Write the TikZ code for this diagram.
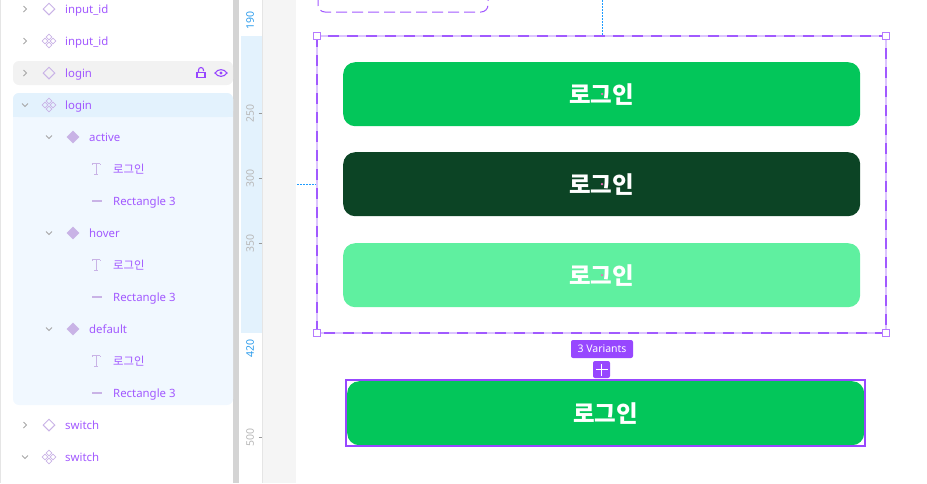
\documentclass[tikz,border=0pt]{standalone}
\usepackage{fontspec}
\setmainfont{Noto Sans}
\newfontfamily\krfont{Noto Sans CJK KR}
\usetikzlibrary{shapes.geometric}
\definecolor{violet}{HTML}{A259FF}
\definecolor{darkviolet}{HTML}{9747FF}
\definecolor{paleviolet}{HTML}{DCC4FF}
\definecolor{iconviolet}{HTML}{C9B3E6}
\definecolor{rowblue}{HTML}{E3F2FD}
\definecolor{paleblue}{HTML}{F1F8FF}
\definecolor{rulerblue}{HTML}{2D9CEB}
\definecolor{guideblue}{HTML}{1E9BFF}
\definecolor{btngreen}{HTML}{03C65A}
\definecolor{btndark}{HTML}{0C4425}
\definecolor{btnlight}{HTML}{5FF0A0}
\tikzset{
  rowtext/.style={anchor=west,inner sep=0pt,text=violet,font=\fontsize{11.4}{13}\selectfont,text height=9pt,text depth=0pt},
  krtext/.style={rowtext,font=\krfont\fontsize{11.4}{13}\selectfont},
  ruler/.style={rotate=90,inner sep=0pt,text=black!28,font=\fontsize{10.5}{12}\selectfont},
  rulermark/.style={ruler,text=rulerblue},
  emptymark/.style={diamond,draw=iconviolet,line width=1pt,inner sep=0pt,minimum size=12pt,aspect=1},
  solidmark/.style={diamond,fill=iconviolet,inner sep=0pt,minimum size=13pt,aspect=1},
  dotmark/.style={diamond,draw=iconviolet,line width=.8pt,inner sep=0pt,minimum size=6pt,aspect=1},
  chevron/.style={draw=black!35,line width=.8pt},
  button/.style={rounded corners=12pt,minimum width=517pt,minimum height=64pt,inner sep=0pt,text=white,font=\krfont\bfseries\fontsize{23.5}{26}\selectfont},
  handle/.style={draw=violet!80,fill=white,line width=1.4pt,minimum size=7pt,inner sep=0pt},
  guide/.style={draw=guideblue,line width=1pt,dash pattern=on 2pt off 1pt},
  centerdot/.style={circle,fill=magenta!60,inner sep=0pt,minimum size=2.5pt}
}
\begin{document}
\begin{tikzpicture}[x=1pt,y=-1pt]
\useasboundingbox (0,0) rectangle (927,483);
% panels
\fill [black!10] (0,0) rectangle (1,483);
\fill [black!17] (233,0) rectangle (239,483);
\fill [black!4] (263,0) rectangle (296,483);
\draw [black!10,line width=1pt] (262.5,0) -- (262.5,483);
\fill [rowblue] (241,36) rectangle (262,333);
% selected rows
\fill [black!5,rounded corners=6pt] (13,61) rectangle (233,85);
\fill [paleblue,rounded corners=6pt] (13,93) rectangle (233,405);
\fill [rowblue,rounded corners=6pt] (13,93) -- (13,117) -- (233,117) -- (233,93) -- cycle;
\fill [rowblue] (13,105) rectangle (233,117);
% ruler
\node [rulermark] (r190) at (250,20) {190};
\node [ruler] (r250) at (250,113) {250};
\node [ruler] (r300) at (250,178) {300};
\node [ruler] (r350) at (250,243) {350};
\node [rulermark] (r420) at (250,348) {420};
\node [ruler] (r500) at (250,437) {500};
\foreach \y in {113,178,243,437}
  \draw [black!40,line width=.8pt] (258.5,\y) -- (262,\y);
% chevrons
\foreach \y in {9,41,73,425}
  \draw [chevron] (23.5,\y-3) -- (26.5,\y) -- (23.5,\y+3);
\foreach \y in {105,457}
  \draw [chevron] (22,\y-1.5) -- (25,\y+1.5) -- (28,\y-1.5);
\foreach \y in {137,233,329}
  \draw [chevron] (46,\y-1.5) -- (49,\y+1.5) -- (52,\y-1.5);
% marks
\node [emptymark] (m1) at (49,9) {};
\node [emptymark] (m3) at (49,73) {};
\node [emptymark] (m14) at (49,425) {};
\foreach \y in {41,105,457}{
  \node [dotmark] at (49,\y-4) {};
  \node [dotmark] at (49,\y+4) {};
  \node [dotmark] at (45,\y) {};
  \node [dotmark] at (53,\y) {};
}
\node [solidmark] (m5) at (73,137) {};
\node [solidmark] (m8) at (73,233) {};
\node [solidmark] (m11) at (73,329) {};
\foreach \y in {169,265,361}{
  \draw [iconviolet,line width=.8pt] (92,\y-5.5) -- (100,\y-5.5);
  \draw [iconviolet,line width=.8pt] (92,\y-5.5) -- (92,\y-4);
  \draw [iconviolet,line width=.8pt] (100,\y-5.5) -- (100,\y-4);
  \draw [iconviolet,line width=.8pt] (96,\y-5.5) -- (96,\y+5);
  \draw [iconviolet,line width=.8pt] (94,\y+5) -- (98,\y+5);
}
\foreach \y in {201,297,393}
  \draw [iconviolet,line width=2pt] (92,\y) -- (102,\y);
% row labels
\node [rowtext] (t1) at (65,9) {input\_id};
\node [rowtext] (t2) at (65,41) {input\_id};
\node [rowtext] (t3) at (65,73) {login};
\node [rowtext] (t4) at (65,105) {login};
\node [rowtext] (t5) at (89,137) {active};
\node [krtext] (t6) at (113,169) {로그인};
\node [rowtext] (t7) at (113,201) {Rectangle 3};
\node [rowtext] (t8) at (89,233) {hover};
\node [krtext] (t9) at (113,265) {로그인};
\node [rowtext] (t10) at (113,297) {Rectangle 3};
\node [rowtext] (t11) at (89,329) {default};
\node [krtext] (t12) at (113,361) {로그인};
\node [rowtext] (t13) at (113,393) {Rectangle 3};
\node [rowtext] (t14) at (65,425) {switch};
\node [rowtext] (t15) at (65,457) {switch};
% lock and eye
\draw [darkviolet,line width=1.1pt] (197,72.5) rectangle (205,77.5);
\draw [darkviolet,line width=1.1pt] (198.5,72.5) -- (198.5,70) arc (180:360:2.5) -- (203.5,71);
\draw [darkviolet,line width=1.1pt] (215,73) .. controls (218,68.5) and (224,68.5) .. (227,73) .. controls (224,77.5) and (218,77.5) .. (215,73) -- cycle;
\fill [darkviolet] (221,73) circle (1.6);
% guides
\coordinate (gtop) at (602,0);
\coordinate (gtopend) at (602,35);
\coordinate (gleft) at (297,184.5);
\coordinate (gleftend) at (316,184.5);
\draw [guide] (gtop) -- (gtopend);
\draw [guide] (gleft) -- (gleftend);
% frames
\draw [violet,line width=1pt,dash pattern=on 11pt off 5pt,rounded corners=7pt] (318,-12) rectangle (488,12);
\draw [paleviolet,line width=1.8pt] (317,36) rectangle (886,333);
\draw [darkviolet!90,line width=1.4pt,dash pattern=on 11pt off 8pt] (317,36) rectangle (886,333);
% buttons
\node [button,fill=btngreen,anchor=north west] (active) at (343,62) {\raisebox{-1pt}{로그인}};
\node [button,fill=btndark,anchor=north west] (hover) at (343,152) {\raisebox{-1pt}{로그인}};
\node [button,fill=btnlight,anchor=north west] (default) at (343,243) {\raisebox{-1pt}{로그인}};
\node [centerdot] (d1) at (602,94) {};
\node [centerdot] (d2) at (602,184) {};
\node [centerdot] (d3) at (602,275) {};
% handles
\node [handle] (h1) at (317,36) {};
\node [handle] (h2) at (886,36) {};
\node [handle] (h3) at (317,333) {};
\node [handle] (h4) at (886,333) {};
% variants
\node [fill=darkviolet,rounded corners=2pt,text=white,inner sep=0pt,minimum width=62pt,minimum height=18pt,font=\fontsize{10.5}{12}\selectfont] (badge) at (602,349) {3 Variants};
\node [fill=darkviolet,rounded corners=2pt,inner sep=0pt,minimum size=17pt] (plus) at (601.5,369.5) {};
\draw [white,line width=1.6pt] (plus.center) ++(-6,0) -- ++(12,0);
\draw [white,line width=1.6pt] (plus.center) ++(0,-6) -- ++(0,12);
% master
\node [button,fill=btngreen,anchor=north west] (master) at (347,381) {\raisebox{-1pt}{로그인}};
\draw [darkviolet,line width=2pt] (346,380) rectangle (865,446);
\end{tikzpicture}
\end{document}
